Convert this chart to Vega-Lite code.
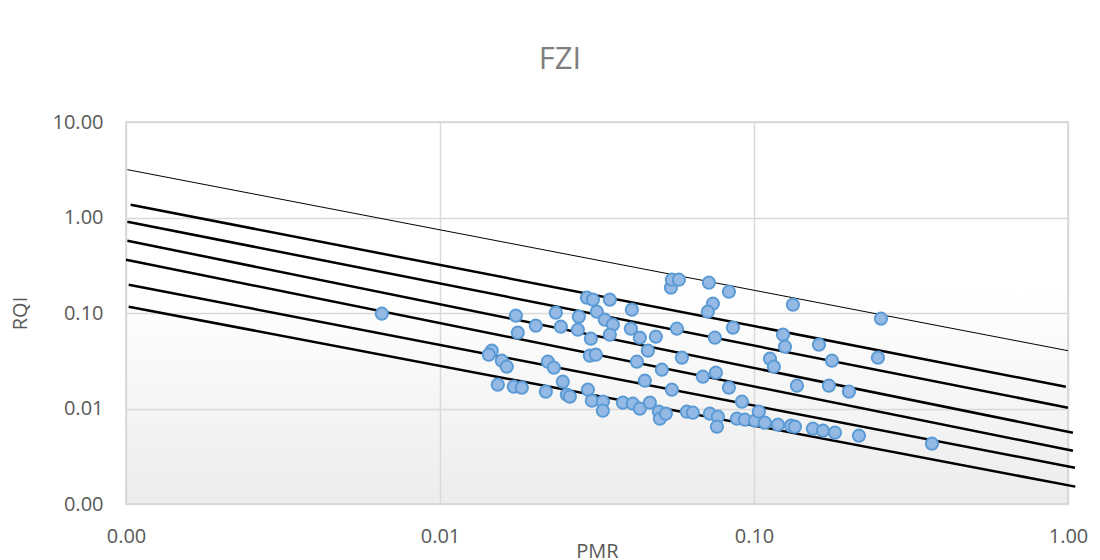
{
  "$schema": "https://vega.github.io/schema/vega-lite/v6.json",
  "autosize": {"type": "none"},
  "width": 942,
  "height": 382,
  "padding": {"left": 126, "top": 122, "right": 32, "bottom": 56},
  "background": "#ffffff",
  "title": {
    "text": "FZI",
    "fontSize": 31,
    "font": "Open Sans",
    "fontWeight": "normal",
    "color": "#7f7f7f",
    "anchor": "middle",
    "dx": -37,
    "baseline": "alphabetic",
    "offset": 12
  },
  "config": {
    "view": {
      "fill": {
        "gradient": "linear",
        "x1": 0, "y1": 0, "x2": 0, "y2": 1,
        "stops": [
          {"offset": 0, "color": "#ffffff"},
          {"offset": 0.45, "color": "#ffffff"},
          {"offset": 1, "color": "#ececec"}
        ]
      },
      "stroke": "#cfcfcf",
      "strokeWidth": 1.5
    },
    "axis": {
      "labelFont": "Open Sans",
      "labelFontSize": 20,
      "labelColor": "#595959",
      "titleFont": "Open Sans",
      "titleFontSize": 20,
      "titleFontWeight": "normal",
      "titleColor": "#595959",
      "gridColor": "#d9d9d9",
      "gridWidth": 1.5,
      "domain": false,
      "ticks": false,
      "labelFlush": false
    }
  },
  "datasets": {
    "points": [
      {"pmr": 0.006527, "rqi": 0.0983},
      {"pmr": 0.01462, "rqi": 0.04029},
      {"pmr": 0.0143, "rqi": 0.03659},
      {"pmr": 0.01573, "rqi": 0.03166},
      {"pmr": 0.01632, "rqi": 0.0274},
      {"pmr": 0.01528, "rqi": 0.01775},
      {"pmr": 0.01718, "rqi": 0.01692},
      {"pmr": 0.01822, "rqi": 0.01651},
      {"pmr": 0.01744, "rqi": 0.0937},
      {"pmr": 0.01769, "rqi": 0.0622},
      {"pmr": 0.02019, "rqi": 0.0736},
      {"pmr": 0.02338, "rqi": 0.1007},
      {"pmr": 0.02426, "rqi": 0.0719},
      {"pmr": 0.02768, "rqi": 0.0915},
      {"pmr": 0.02748, "rqi": 0.0669},
      {"pmr": 0.02936, "rqi": 0.1446},
      {"pmr": 0.03068, "rqi": 0.1378},
      {"pmr": 0.03474, "rqi": 0.1378},
      {"pmr": 0.03158, "rqi": 0.1032},
      {"pmr": 0.0335, "rqi": 0.0851},
      {"pmr": 0.03553, "rqi": 0.0754},
      {"pmr": 0.03474, "rqi": 0.0593},
      {"pmr": 0.03023, "rqi": 0.0538},
      {"pmr": 0.04083, "rqi": 0.1083},
      {"pmr": 0.04053, "rqi": 0.0685},
      {"pmr": 0.0433, "rqi": 0.0551},
      {"pmr": 0.0487, "rqi": 0.0565},
      {"pmr": 0.04592, "rqi": 0.04029},
      {"pmr": 0.05681, "rqi": 0.0685},
      {"pmr": 0.05436, "rqi": 0.184},
      {"pmr": 0.05476, "rqi": 0.2232},
      {"pmr": 0.05765, "rqi": 0.2232},
      {"pmr": 0.04236, "rqi": 0.03091},
      {"pmr": 0.05088, "rqi": 0.02549},
      {"pmr": 0.05894, "rqi": 0.03402},
      {"pmr": 0.03001, "rqi": 0.03572},
      {"pmr": 0.03135, "rqi": 0.03659},
      {"pmr": 0.02205, "rqi": 0.03091},
      {"pmr": 0.02304, "rqi": 0.02675},
      {"pmr": 0.02461, "rqi": 0.01909},
      {"pmr": 0.04491, "rqi": 0.01955},
      {"pmr": 0.05476, "rqi": 0.01573},
      {"pmr": 0.02173, "rqi": 0.01499},
      {"pmr": 0.02535, "rqi": 0.01395},
      {"pmr": 0.02591, "rqi": 0.01329},
      {"pmr": 0.02958, "rqi": 0.01573},
      {"pmr": 0.03045, "rqi": 0.01207},
      {"pmr": 0.03301, "rqi": 0.01178},
      {"pmr": 0.03301, "rqi": 0.00948},
      {"pmr": 0.03824, "rqi": 0.0115},
      {"pmr": 0.04113, "rqi": 0.01123},
      {"pmr": 0.0433, "rqi": 0.00995},
      {"pmr": 0.0466, "rqi": 0.0115},
      {"pmr": 0.04977, "rqi": 0.00926},
      {"pmr": 0.05014, "rqi": 0.00782},
      {"pmr": 0.0524, "rqi": 0.00882},
      {"pmr": 0.06112, "rqi": 0.00926},
      {"pmr": 0.06387, "rqi": 0.00904},
      {"pmr": 0.06873, "rqi": 0.02153},
      {"pmr": 0.07183, "rqi": 0.2077},
      {"pmr": 0.08318, "rqi": 0.1671},
      {"pmr": 0.07398, "rqi": 0.1252},
      {"pmr": 0.0713, "rqi": 0.1032},
      {"pmr": 0.08567, "rqi": 0.0702},
      {"pmr": 0.07508, "rqi": 0.0551},
      {"pmr": 0.07561, "rqi": 0.02371},
      {"pmr": 0.08318, "rqi": 0.01651},
      {"pmr": 0.09152, "rqi": 0.01178},
      {"pmr": 0.07236, "rqi": 0.00882},
      {"pmr": 0.07674, "rqi": 0.00821},
      {"pmr": 0.07618, "rqi": 0.00645},
      {"pmr": 0.08822, "rqi": 0.00782},
      {"pmr": 0.09354, "rqi": 0.00763},
      {"pmr": 0.1007, "rqi": 0.00745},
      {"pmr": 0.1083, "rqi": 0.0071},
      {"pmr": 0.1192, "rqi": 0.00677},
      {"pmr": 0.1311, "rqi": 0.00661},
      {"pmr": 0.135, "rqi": 0.00645},
      {"pmr": 0.133, "rqi": 0.1222},
      {"pmr": 0.1237, "rqi": 0.0593},
      {"pmr": 0.1255, "rqi": 0.04436},
      {"pmr": 0.1124, "rqi": 0.03322},
      {"pmr": 0.1157, "rqi": 0.0274},
      {"pmr": 0.137, "rqi": 0.01732},
      {"pmr": 0.154, "rqi": 0.00614},
      {"pmr": 0.161, "rqi": 0.04656},
      {"pmr": 0.1771, "rqi": 0.03166},
      {"pmr": 0.1732, "rqi": 0.01732},
      {"pmr": 0.2006, "rqi": 0.01499},
      {"pmr": 0.1658, "rqi": 0.00585},
      {"pmr": 0.181, "rqi": 0.00558},
      {"pmr": 0.2159, "rqi": 0.00519},
      {"pmr": 0.2537, "rqi": 0.0872},
      {"pmr": 0.2481, "rqi": 0.03402},
      {"pmr": 0.3687, "rqi": 0.00428},
      {"pmr": 0.1036, "rqi": 0.00926}
    ],
    "lines": [
      {"series": "1", "pmr": 0.00101, "rqi": 3.17},
      {"series": "1", "pmr": 1.0, "rqi": 0.0403},
      {"series": "2", "pmr": 0.001035, "rqi": 1.36},
      {"series": "2", "pmr": 0.9845, "rqi": 0.0169},
      {"series": "3", "pmr": 0.00101, "rqi": 0.904},
      {"series": "3", "pmr": 1.0, "rqi": 0.0102},
      {"series": "4", "pmr": 0.00101, "rqi": 0.571},
      {"series": "4", "pmr": 1.037, "rqi": 0.00557},
      {"series": "5", "pmr": 0.001, "rqi": 0.361},
      {"series": "5", "pmr": 1.037, "rqi": 0.00361},
      {"series": "6", "pmr": 0.00102, "rqi": 0.198},
      {"series": "6", "pmr": 1.052, "rqi": 0.0024},
      {"series": "7", "pmr": 0.00102, "rqi": 0.1165},
      {"series": "7", "pmr": 1.055, "rqi": 0.00152}
    ]
  },
  "encoding": {
    "x": {
      "field": "pmr",
      "type": "quantitative",
      "scale": {"type": "log", "domain": [0.001, 1], "nice": false},
      "axis": {
        "values": [0.001, 0.01, 0.1, 1],
        "format": ".2f",
        "title": "PMR",
        "labelPadding": 22,
        "titleBaseline": "top",
        "titleY": 37
      }
    },
    "y": {
      "field": "rqi",
      "type": "quantitative",
      "scale": {"type": "log", "domain": [0.001, 10], "nice": false},
      "axis": {
        "values": [0.001, 0.01, 0.1, 1, 10],
        "format": ".2f",
        "title": "RQI",
        "labelPadding": 23,
        "titlePadding": 22
      }
    }
  },
  "layer": [
    {
      "data": {"name": "lines"},
      "transform": [{"filter": "datum.series == '1'"}],
      "mark": {"type": "line", "color": "#000000", "strokeWidth": 1, "clip": false},
      "encoding": {"detail": {"field": "series"}}
    },
    {
      "data": {"name": "lines"},
      "transform": [{"filter": "datum.series != '1'"}],
      "mark": {"type": "line", "color": "#000000", "strokeWidth": 2.5, "clip": false},
      "encoding": {"detail": {"field": "series"}}
    },
    {
      "data": {"name": "points"},
      "mark": {
        "type": "point",
        "shape": "circle",
        "filled": true,
        "size": 150,
        "fill": "#95b9e5",
        "stroke": "#5b9bd5",
        "strokeWidth": 2,
        "opacity": 1
      }
    }
  ]
}
